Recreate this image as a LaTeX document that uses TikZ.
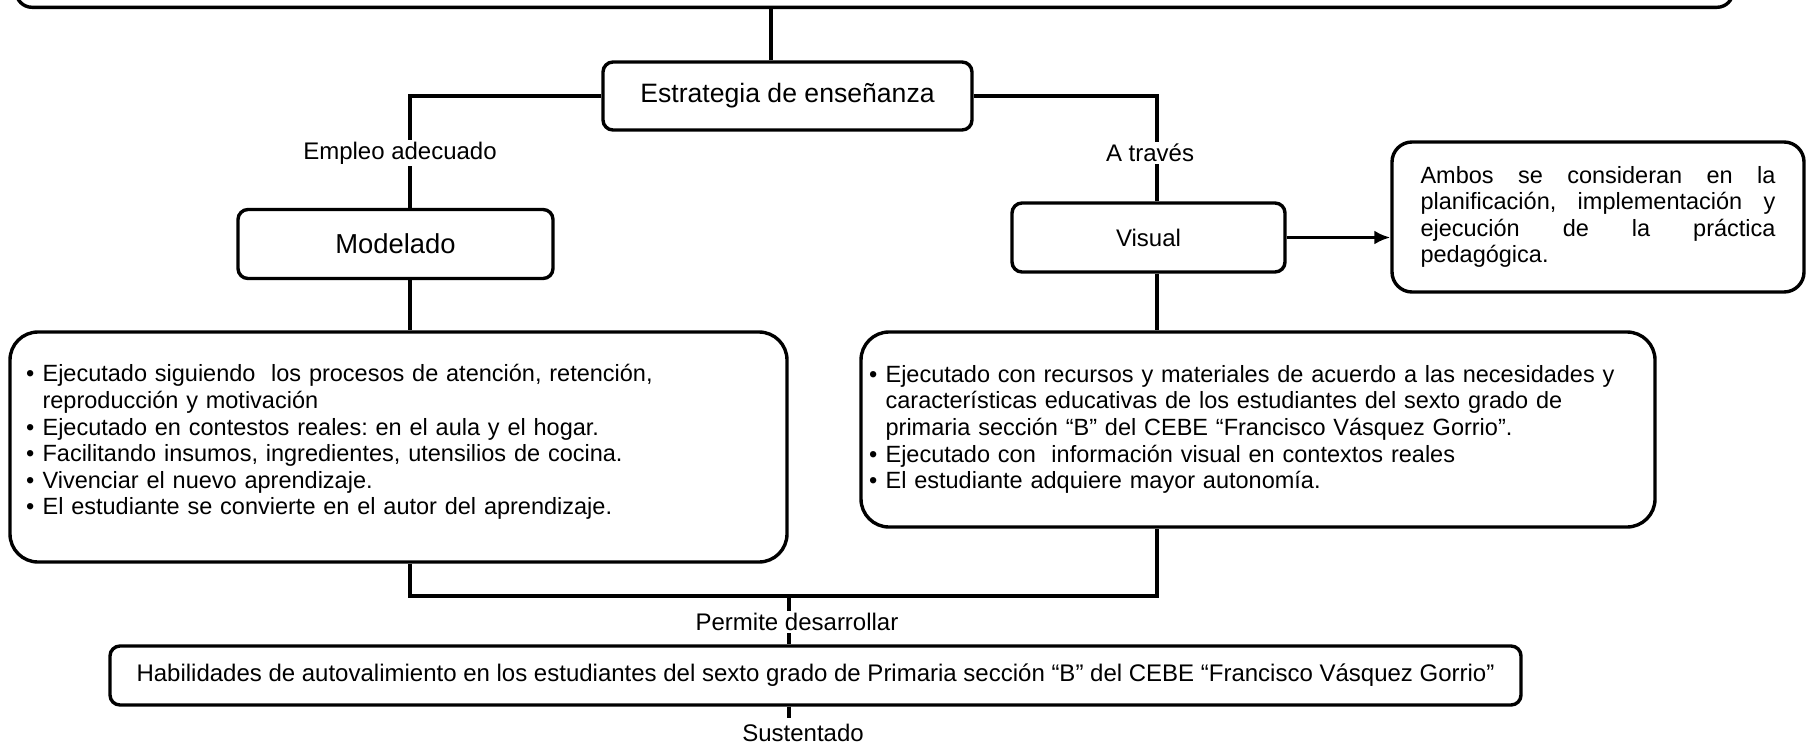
\documentclass[tikz,border=0pt]{standalone}
\usepackage{fontspec}
\setmainfont{Liberation Sans}
\usetikzlibrary{arrows.meta}
\tikzset{
    caja/.style={draw=black, line width=1.7pt, rounded corners=5pt, fill=white, inner sep=0pt},
    etiq/.style={fill=white, inner sep=1pt, font=\fontsize{12}{14}\selectfont},
    linea/.style={line width=1.7pt}}
\tikzset{
    lista/.style={caja, rounded corners=14pt, align=left, font=\fontsize{11.75}{13.3}\selectfont}}
\newcommand{\bul}{\makebox[8.3pt][l]{\textbullet}}
\newcommand{\sang}{\hspace*{8.3pt}}
\newcommand{\jline}[1]{\makebox[177.5pt]{#1}}
\frenchspacing

\begin{document}
\begin{tikzpicture}[x=0.5pt, y=-0.5pt]
\useasboundingbox (0,0) rectangle (1807,744);

    % cajas
    \node[caja, rounded corners=8pt, minimum width=858.5pt, minimum height=40pt, anchor=south] (marco) at (874.5,9) {};
    \node[caja, minimum width=184.5pt, minimum height=34pt, font=\fontsize{13.3}{15}\selectfont] (estr) at (787.5,96) {Estrategia de enseñanza};
    \node[caja, minimum width=157.5pt, minimum height=34.5pt, font=\fontsize{13.7}{15}\selectfont] (model) at (395.5,244) {Modelado};
    \node[caja, minimum width=136.5pt, minimum height=34.5pt, font=\fontsize{12}{14}\selectfont] (visual) at (1148.5,237.5) {Visual};
    \node[caja, rounded corners=10pt, minimum width=206pt, minimum height=75pt, text width=177.5pt, align=left, font=\fontsize{11.75}{13.1}\selectfont] (ambos) at (1598,217)
        {\jline{Ambos\hfill se\hfill consideran\hfill en\hfill la}\\
         \jline{planificación,\hfill implementación\hfill y}\\
         \jline{ejecución\hfill de\hfill la\hfill práctica}\\
         pedagógica.};
    \node[lista, minimum width=388.5pt, minimum height=115pt, text width=372.5pt, inner xsep=8pt] (izq) at (398.5,447)
        {\bul Ejecutado siguiendo\ \ los procesos de atención, retención,\\
         \sang reproducción y motivación\\
         \bul Ejecutado en contestos reales: en el aula y el hogar.\\
         \bul Facilitando insumos, ingredientes, utensilios de cocina.\\
         \bul Vivenciar el nuevo aprendizaje.\\
         \bul El estudiante se convierte en el autor del aprendizaje.\\[-6pt]\mbox{}};
    \node[lista, minimum width=397pt, minimum height=97.5pt, text width=389pt, inner xsep=4pt] (der) at (1258,429.5)
        {\bul Ejecutado con recursos y materiales de acuerdo a las necesidades y\\
         \sang características educativas de los estudiantes del sexto grado de\\
         \sang primaria sección “B” del CEBE “Francisco Vásquez Gorrio”.\\
         \bul Ejecutado con\ \ información visual en contextos reales\\
         \bul El estudiante adquiere mayor autonomía.};
    \node[caja, minimum width=705.5pt, minimum height=29.5pt, font=\fontsize{12}{14}\selectfont] (habil) at (815.5,675.5)
        {Habilidades de autovalimiento en los estudiantes del sexto grado de Primaria sección “B” del CEBE “Francisco Vásquez Gorrio”};

    % conectores
    \coordinate (union) at (789,596);
    \draw[linea] ([xshift=-8.25pt]estr.north) -- ([xshift=-8.25pt]estr.north |- marco.south);
    \draw[linea] (estr.west) -| ([xshift=7.25pt]model.north);
    \draw[linea] (estr.east) -| ([xshift=4.25pt]visual.north);
    \draw[linea, -{Latex[length=8pt, width=7pt]}] (visual.east) -- (visual.east -| ambos.west);
    \draw[linea] ([xshift=7.25pt]model.south) -- ([xshift=7.25pt]model.south |- izq.north);
    \draw[linea] ([xshift=4.25pt]visual.south) -- ([xshift=4.25pt]visual.south |- der.north);
    \draw[linea] ([xshift=7.25pt]model.south |- izq.south) |- (union) -| ([xshift=4.25pt]visual.south |- der.south);
    \draw[linea] (union) -- (union |- habil.north);
    \coordinate (sustfin) at (789,718);
    \draw[linea] (union |- habil.south) -- (sustfin);

    % etiquetas
    \node[etiq] (empleo) at (400,153) {Empleo adecuado};
    \node[etiq] (atraves) at (1150,153) {A través};
    \node[etiq] (permite) at (797,622) {Permite desarrollar};
    \node[etiq] (sust) at (803,733) {Sustentado};

\end{tikzpicture}
\end{document}
